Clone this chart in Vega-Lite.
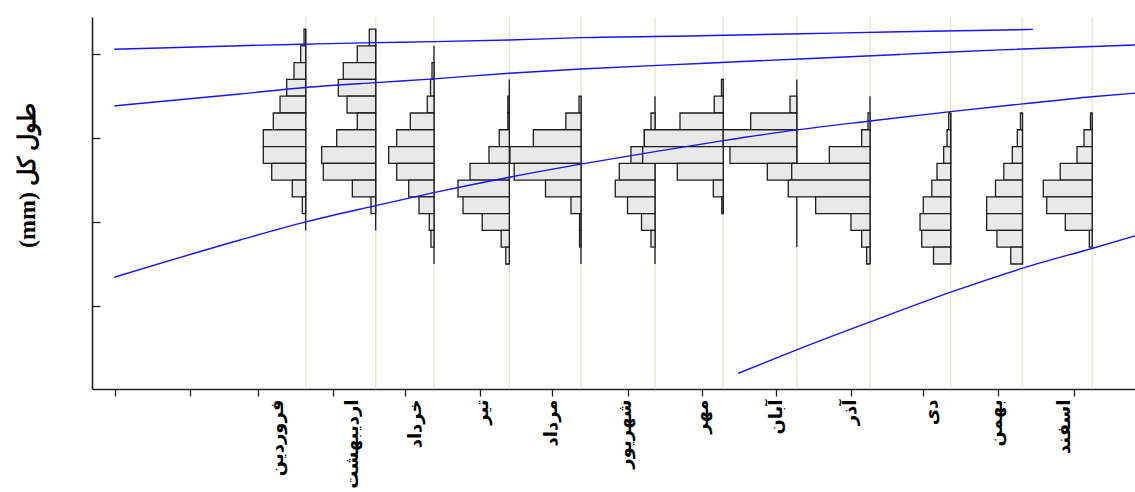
{
  "$schema": "https://vega.github.io/schema/vega-lite/v6.json",
  "width": 1043,
  "height": 372,
  "autosize": {"type": "none"},
  "padding": {"left": 92, "top": 17, "right": 0, "bottom": 103},
  "background": "white",
  "config": {"view": {"stroke": null}},
  "datasets": {
    "bins": [
      {"m": "فروردین", "base": 2.594, "left": 2.572, "lo": 205, "hi": 215},
      {"m": "فروردین", "base": 2.594, "left": 2.526, "lo": 195, "hi": 205},
      {"m": "فروردین", "base": 2.594, "left": 2.436, "lo": 185, "hi": 195},
      {"m": "فروردین", "base": 2.594, "left": 2.336, "lo": 175, "hi": 185},
      {"m": "فروردین", "base": 2.594, "left": 2.246, "lo": 165, "hi": 175},
      {"m": "فروردین", "base": 2.594, "left": 2.155, "lo": 155, "hi": 165},
      {"m": "فروردین", "base": 2.594, "left": 2.019, "lo": 145, "hi": 155},
      {"m": "فروردین", "base": 2.594, "left": 2.019, "lo": 135, "hi": 145},
      {"m": "فروردین", "base": 2.594, "left": 2.133, "lo": 125, "hi": 135},
      {"m": "فروردین", "base": 2.594, "left": 2.412, "lo": 115, "hi": 125},
      {"m": "فروردین", "base": 2.594, "left": 2.548, "lo": 105, "hi": 115},
      {"m": "اردیبهشت", "base": 3.544, "left": 3.457, "lo": 205, "hi": 215},
      {"m": "اردیبهشت", "base": 3.544, "left": 3.294, "lo": 195, "hi": 205},
      {"m": "اردیبهشت", "base": 3.544, "left": 3.104, "lo": 185, "hi": 195},
      {"m": "اردیبهشت", "base": 3.544, "left": 3.037, "lo": 175, "hi": 185},
      {"m": "اردیبهشت", "base": 3.544, "left": 3.155, "lo": 165, "hi": 175},
      {"m": "اردیبهشت", "base": 3.544, "left": 3.294, "lo": 155, "hi": 165},
      {"m": "اردیبهشت", "base": 3.544, "left": 3.015, "lo": 145, "hi": 155},
      {"m": "اردیبهشت", "base": 3.544, "left": 2.811, "lo": 135, "hi": 145},
      {"m": "اردیبهشت", "base": 3.544, "left": 2.833, "lo": 125, "hi": 135},
      {"m": "اردیبهشت", "base": 3.544, "left": 3.227, "lo": 115, "hi": 125},
      {"m": "اردیبهشت", "base": 3.544, "left": 3.480, "lo": 105, "hi": 115},
      {"m": "خرداد", "base": 4.335, "left": 4.308, "lo": 185, "hi": 195},
      {"m": "خرداد", "base": 4.335, "left": 4.288, "lo": 175, "hi": 185},
      {"m": "خرداد", "base": 4.335, "left": 4.244, "lo": 165, "hi": 175},
      {"m": "خرداد", "base": 4.335, "left": 4.014, "lo": 155, "hi": 165},
      {"m": "خرداد", "base": 4.335, "left": 3.829, "lo": 145, "hi": 155},
      {"m": "خرداد", "base": 4.335, "left": 3.720, "lo": 135, "hi": 145},
      {"m": "خرداد", "base": 4.335, "left": 3.829, "lo": 125, "hi": 135},
      {"m": "خرداد", "base": 4.335, "left": 3.992, "lo": 115, "hi": 125},
      {"m": "خرداد", "base": 4.335, "left": 4.132, "lo": 105, "hi": 115},
      {"m": "خرداد", "base": 4.335, "left": 4.271, "lo": 95, "hi": 105},
      {"m": "خرداد", "base": 4.335, "left": 4.294, "lo": 85, "hi": 95},
      {"m": "تیر", "base": 5.357, "left": 5.337, "lo": 165, "hi": 175},
      {"m": "تیر", "base": 5.357, "left": 5.337, "lo": 155, "hi": 165},
      {"m": "تیر", "base": 5.357, "left": 5.220, "lo": 145, "hi": 155},
      {"m": "تیر", "base": 5.357, "left": 5.081, "lo": 135, "hi": 145},
      {"m": "تیر", "base": 5.357, "left": 4.824, "lo": 125, "hi": 135},
      {"m": "تیر", "base": 5.357, "left": 4.661, "lo": 115, "hi": 125},
      {"m": "تیر", "base": 5.357, "left": 4.729, "lo": 105, "hi": 115},
      {"m": "تیر", "base": 5.357, "left": 4.989, "lo": 95, "hi": 105},
      {"m": "تیر", "base": 5.357, "left": 5.247, "lo": 85, "hi": 95},
      {"m": "تیر", "base": 5.357, "left": 5.309, "lo": 75, "hi": 85},
      {"m": "مرداد", "base": 6.330, "left": 6.303, "lo": 165, "hi": 175},
      {"m": "مرداد", "base": 6.330, "left": 6.124, "lo": 155, "hi": 165},
      {"m": "مرداد", "base": 6.330, "left": 5.683, "lo": 145, "hi": 155},
      {"m": "مرداد", "base": 6.330, "left": 5.366, "lo": 135, "hi": 145},
      {"m": "مرداد", "base": 6.330, "left": 5.423, "lo": 125, "hi": 135},
      {"m": "مرداد", "base": 6.330, "left": 5.848, "lo": 115, "hi": 125},
      {"m": "مرداد", "base": 6.330, "left": 6.194, "lo": 105, "hi": 115},
      {"m": "مرداد", "base": 6.330, "left": 6.310, "lo": 95, "hi": 105},
      {"m": "مرداد", "base": 6.330, "left": 6.310, "lo": 85, "hi": 95},
      {"m": "شهریور", "base": 7.334, "left": 7.280, "lo": 155, "hi": 165},
      {"m": "شهریور", "base": 7.334, "left": 7.189, "lo": 145, "hi": 155},
      {"m": "شهریور", "base": 7.334, "left": 7.008, "lo": 135, "hi": 145},
      {"m": "شهریور", "base": 7.334, "left": 6.849, "lo": 125, "hi": 135},
      {"m": "شهریور", "base": 7.334, "left": 6.795, "lo": 115, "hi": 125},
      {"m": "شهریور", "base": 7.334, "left": 6.961, "lo": 105, "hi": 115},
      {"m": "شهریور", "base": 7.334, "left": 7.151, "lo": 95, "hi": 105},
      {"m": "شهریور", "base": 7.334, "left": 7.280, "lo": 85, "hi": 95},
      {"m": "مهر", "base": 8.260, "left": 8.236, "lo": 175, "hi": 185},
      {"m": "مهر", "base": 8.260, "left": 8.138, "lo": 165, "hi": 175},
      {"m": "مهر", "base": 8.260, "left": 7.673, "lo": 155, "hi": 165},
      {"m": "مهر", "base": 8.260, "left": 7.189, "lo": 145, "hi": 155},
      {"m": "مهر", "base": 8.260, "left": 7.167, "lo": 135, "hi": 145},
      {"m": "مهر", "base": 8.260, "left": 7.636, "lo": 125, "hi": 135},
      {"m": "مهر", "base": 8.260, "left": 8.125, "lo": 115, "hi": 125},
      {"m": "مهر", "base": 8.260, "left": 8.240, "lo": 105, "hi": 115},
      {"m": "آبان", "base": 9.258, "left": 9.166, "lo": 165, "hi": 175},
      {"m": "آبان", "base": 9.258, "left": 8.632, "lo": 155, "hi": 165},
      {"m": "آبان", "base": 9.258, "left": 8.260, "lo": 145, "hi": 155},
      {"m": "آبان", "base": 9.258, "left": 8.351, "lo": 135, "hi": 145},
      {"m": "آبان", "base": 9.258, "left": 8.858, "lo": 125, "hi": 135},
      {"m": "آذر", "base": 10.251, "left": 10.224, "lo": 155, "hi": 165},
      {"m": "آذر", "base": 10.251, "left": 10.138, "lo": 145, "hi": 155},
      {"m": "آذر", "base": 10.251, "left": 9.699, "lo": 135, "hi": 145},
      {"m": "آذر", "base": 10.251, "left": 9.189, "lo": 125, "hi": 135},
      {"m": "آذر", "base": 10.251, "left": 9.142, "lo": 115, "hi": 125},
      {"m": "آذر", "base": 10.251, "left": 9.514, "lo": 105, "hi": 115},
      {"m": "آذر", "base": 10.251, "left": 9.993, "lo": 95, "hi": 105},
      {"m": "آذر", "base": 10.251, "left": 10.138, "lo": 85, "hi": 95},
      {"m": "آذر", "base": 10.251, "left": 10.206, "lo": 75, "hi": 85},
      {"m": "دی", "base": 11.346, "left": 11.319, "lo": 155, "hi": 165},
      {"m": "دی", "base": 11.346, "left": 11.296, "lo": 145, "hi": 155},
      {"m": "دی", "base": 11.346, "left": 11.251, "lo": 135, "hi": 145},
      {"m": "دی", "base": 11.346, "left": 11.160, "lo": 125, "hi": 135},
      {"m": "دی", "base": 11.346, "left": 11.090, "lo": 115, "hi": 125},
      {"m": "دی", "base": 11.346, "left": 10.974, "lo": 105, "hi": 115},
      {"m": "دی", "base": 11.346, "left": 10.930, "lo": 95, "hi": 105},
      {"m": "دی", "base": 11.346, "left": 10.953, "lo": 85, "hi": 95},
      {"m": "دی", "base": 11.346, "left": 11.113, "lo": 75, "hi": 85},
      {"m": "بهمن", "base": 12.320, "left": 12.293, "lo": 155, "hi": 165},
      {"m": "بهمن", "base": 12.320, "left": 12.250, "lo": 145, "hi": 155},
      {"m": "بهمن", "base": 12.320, "left": 12.182, "lo": 135, "hi": 145},
      {"m": "بهمن", "base": 12.320, "left": 12.067, "lo": 125, "hi": 135},
      {"m": "بهمن", "base": 12.320, "left": 11.954, "lo": 115, "hi": 125},
      {"m": "بهمن", "base": 12.320, "left": 11.834, "lo": 105, "hi": 115},
      {"m": "بهمن", "base": 12.320, "left": 11.834, "lo": 95, "hi": 105},
      {"m": "بهمن", "base": 12.320, "left": 11.974, "lo": 85, "hi": 95},
      {"m": "بهمن", "base": 12.320, "left": 12.161, "lo": 75, "hi": 85},
      {"m": "اسفند", "base": 13.266, "left": 13.243, "lo": 155, "hi": 165},
      {"m": "اسفند", "base": 13.266, "left": 13.155, "lo": 145, "hi": 155},
      {"m": "اسفند", "base": 13.266, "left": 13.060, "lo": 135, "hi": 145},
      {"m": "اسفند", "base": 13.266, "left": 12.832, "lo": 125, "hi": 135},
      {"m": "اسفند", "base": 13.266, "left": 12.603, "lo": 115, "hi": 125},
      {"m": "اسفند", "base": 13.266, "left": 12.649, "lo": 105, "hi": 115},
      {"m": "اسفند", "base": 13.266, "left": 12.901, "lo": 95, "hi": 105},
      {"m": "اسفند", "base": 13.266, "left": 13.227, "lo": 85, "hi": 95}
    ],
    "base": [
      {"m": "فروردین", "t": 2.594, "lo": 95, "hi": 215},
      {"m": "اردیبهشت", "t": 3.544, "lo": 95, "hi": 215},
      {"m": "خرداد", "t": 4.335, "lo": 75, "hi": 205},
      {"m": "تیر", "t": 5.357, "lo": 75, "hi": 185},
      {"m": "مرداد", "t": 6.330, "lo": 75, "hi": 175},
      {"m": "شهریور", "t": 7.334, "lo": 75, "hi": 175},
      {"m": "مهر", "t": 8.260, "lo": 105, "hi": 185},
      {"m": "آبان", "t": 9.258, "lo": 85, "hi": 185},
      {"m": "آذر", "t": 10.251, "lo": 75, "hi": 175},
      {"m": "دی", "t": 11.346, "lo": 75, "hi": 165},
      {"m": "بهمن", "t": 12.320, "lo": 75, "hi": 165},
      {"m": "اسفند", "t": 13.266, "lo": 85, "hi": 165}
    ],
    "curves": [
      {"c": 1, "t": -0.003, "len": 203.0},
      {"c": 1, "t": 1.703, "len": 205.1},
      {"c": 1, "t": 2.594, "len": 206.0},
      {"c": 1, "t": 3.544, "len": 206.9},
      {"c": 1, "t": 4.331, "len": 207.5},
      {"c": 1, "t": 5.357, "len": 208.5},
      {"c": 1, "t": 6.326, "len": 209.9},
      {"c": 1, "t": 7.944, "len": 211.0},
      {"c": 1, "t": 9.301, "len": 212.2},
      {"c": 1, "t": 10.658, "len": 213.4},
      {"c": 1, "t": 12.463, "len": 214.8},
      {"c": 2, "t": -0.003, "len": 169.2},
      {"c": 2, "t": 1.703, "len": 176.3},
      {"c": 2, "t": 2.594, "len": 180.2},
      {"c": 2, "t": 3.544, "len": 183.1},
      {"c": 2, "t": 4.331, "len": 185.3},
      {"c": 2, "t": 5.357, "len": 188.7},
      {"c": 2, "t": 6.330, "len": 191.2},
      {"c": 2, "t": 7.944, "len": 194.5},
      {"c": 2, "t": 9.301, "len": 197.2},
      {"c": 2, "t": 10.658, "len": 199.9},
      {"c": 2, "t": 12.015, "len": 202.6},
      {"c": 2, "t": 13.847, "len": 205.5},
      {"c": 3, "t": -0.003, "len": 67.1},
      {"c": 3, "t": 1.703, "len": 89.3},
      {"c": 3, "t": 2.594, "len": 100.1},
      {"c": 3, "t": 3.544, "len": 109.8},
      {"c": 3, "t": 4.331, "len": 117.5},
      {"c": 3, "t": 5.357, "len": 126.7},
      {"c": 3, "t": 6.326, "len": 134.5},
      {"c": 3, "t": 7.334, "len": 142.0},
      {"c": 3, "t": 8.260, "len": 148.5},
      {"c": 3, "t": 9.260, "len": 154.9},
      {"c": 3, "t": 10.251, "len": 160.2},
      {"c": 3, "t": 11.346, "len": 165.8},
      {"c": 3, "t": 12.323, "len": 170.4},
      {"c": 3, "t": 13.263, "len": 174.7},
      {"c": 3, "t": 13.847, "len": 176.8},
      {"c": 4, "t": 8.464, "len": 9.9},
      {"c": 4, "t": 9.256, "len": 23.8},
      {"c": 4, "t": 10.261, "len": 40.6},
      {"c": 4, "t": 11.346, "len": 58.2},
      {"c": 4, "t": 12.323, "len": 72.5},
      {"c": 4, "t": 13.273, "len": 84.4},
      {"c": 4, "t": 13.847, "len": 91.7}
    ]
  },
  "layer": [
    {
      "data": {"name": "base"},
      "mark": {"type": "rule", "color": "#e8e8d4", "strokeWidth": 1.5},
      "encoding": {
        "x": {
          "field": "t", "type": "quantitative",
          "scale": {"domain": [-0.3053, 13.847], "nice": false, "zero": false},
          "axis": {
            "orient": "bottom", "title": null, "grid": false, "labels": false,
            "values": [0, 1.024, 1.951, 2.969, 3.942, 4.959, 5.936, 6.961, 7.972, 8.982, 10.0, 10.974, 11.992, 13.015],
            "ticks": true, "tickSize": 7, "tickColor": "#222222", "tickWidth": 1.3,
            "domain": true, "domainColor": "#222222", "domainWidth": 1.6
          }
        }
      }
    },
    {
      "data": {"name": "base"},
      "mark": {"type": "rule", "color": "#1e1e1e", "strokeWidth": 1.3},
      "encoding": {
        "x": {
          "field": "t", "type": "quantitative",
          "scale": {"domain": [-0.3053, 13.847], "nice": false, "zero": false},
          "axis": {
            "orient": "bottom", "title": null, "grid": false, "domain": false,
            "ticks": false, "tickSize": 0,
            "values": [2.205, 3.236, 4.091, 5.0, 5.936, 6.927, 7.985, 8.989, 9.98, 11.079, 11.974, 12.897],
            "labelAngle": -90, "labelAlign": "right", "labelBaseline": "middle",
            "labelPadding": 10, "labelOverlap": false, "labelFlush": false,
            "labelFont": "DejaVu Sans", "labelFontWeight": "bold", "labelFontSize": 18, "labelColor": "#000000",
            "labelExpr": "datum.value < 2.7 ? 'فروردین' : datum.value < 3.66 ? 'اردیبهشت' : datum.value < 4.55 ? 'خرداد' : datum.value < 5.47 ? 'تیر' : datum.value < 6.43 ? 'مرداد' : datum.value < 7.46 ? 'شهریور' : datum.value < 8.49 ? 'مهر' : datum.value < 9.48 ? 'آبان' : datum.value < 10.53 ? 'آذر' : datum.value < 11.53 ? 'دی' : datum.value < 12.44 ? 'بهمن' : 'اسفند'"
          }
        },
        "y": {
          "field": "lo", "type": "quantitative",
          "scale": {"domain": [0.5, 222.2], "nice": false, "zero": false},
          "axis": {
            "title": "‫طول کل (mm)‬", "values": [50, 100, 150, 200], "labels": false, "grid": false,
            "ticks": true, "tickSize": -8, "tickColor": "#222222", "tickWidth": 1.3,
            "domainColor": "#222222", "domainWidth": 1.6,
            "titleFont": "Liberation Serif", "titleFontWeight": "bold", "titleFontSize": 24, "titleColor": "#000000",
            "titleAngle": -90, "titleX": -65, "titleY": 158, "titleAlign": "center", "titleBaseline": "middle"
          }
        },
        "y2": {"field": "hi"}
      }
    },
    {
      "data": {"name": "bins"},
      "mark": {"type": "rect", "fill": "#e9e9e9", "stroke": "#1e1e1e", "strokeWidth": 1.3},
      "encoding": {
        "x": {
          "field": "left", "type": "quantitative",
          "scale": {"domain": [-0.3053, 13.847], "nice": false, "zero": false},
          "axis": null
        },
        "x2": {"field": "base"},
        "y": {
          "field": "lo", "type": "quantitative",
          "scale": {"domain": [0.5, 222.2], "nice": false, "zero": false},
          "axis": {
            "title": "‫طول کل (mm)‬", "values": [50, 100, 150, 200], "labels": false, "grid": false,
            "ticks": true, "tickSize": -8, "tickColor": "#222222", "tickWidth": 1.3,
            "domainColor": "#222222", "domainWidth": 1.6,
            "titleFont": "Liberation Serif", "titleFontWeight": "bold", "titleFontSize": 24, "titleColor": "#000000",
            "titleAngle": -90, "titleX": -65, "titleY": 158, "titleAlign": "center", "titleBaseline": "middle"
          }
        },
        "y2": {"field": "hi"}
      }
    },
    {
      "data": {"name": "curves"},
      "mark": {"type": "line", "color": "#1414ff", "strokeWidth": 1.4, "interpolate": "monotone"},
      "encoding": {
        "x": {
          "field": "t", "type": "quantitative",
          "scale": {"domain": [-0.3053, 13.847], "nice": false, "zero": false},
          "axis": null
        },
        "y": {
          "field": "len", "type": "quantitative",
          "scale": {"domain": [0.5, 222.2], "nice": false, "zero": false},
          "axis": {
            "title": "‫طول کل (mm)‬", "values": [50, 100, 150, 200], "labels": false, "grid": false,
            "ticks": true, "tickSize": -8, "tickColor": "#222222", "tickWidth": 1.3,
            "domainColor": "#222222", "domainWidth": 1.6,
            "titleFont": "Liberation Serif", "titleFontWeight": "bold", "titleFontSize": 24, "titleColor": "#000000",
            "titleAngle": -90, "titleX": -65, "titleY": 158, "titleAlign": "center", "titleBaseline": "middle"
          }
        },
        "detail": {"field": "c", "type": "nominal"}
      }
    }
  ],
  "resolve": {"axis": {"x": "independent"}}
}
